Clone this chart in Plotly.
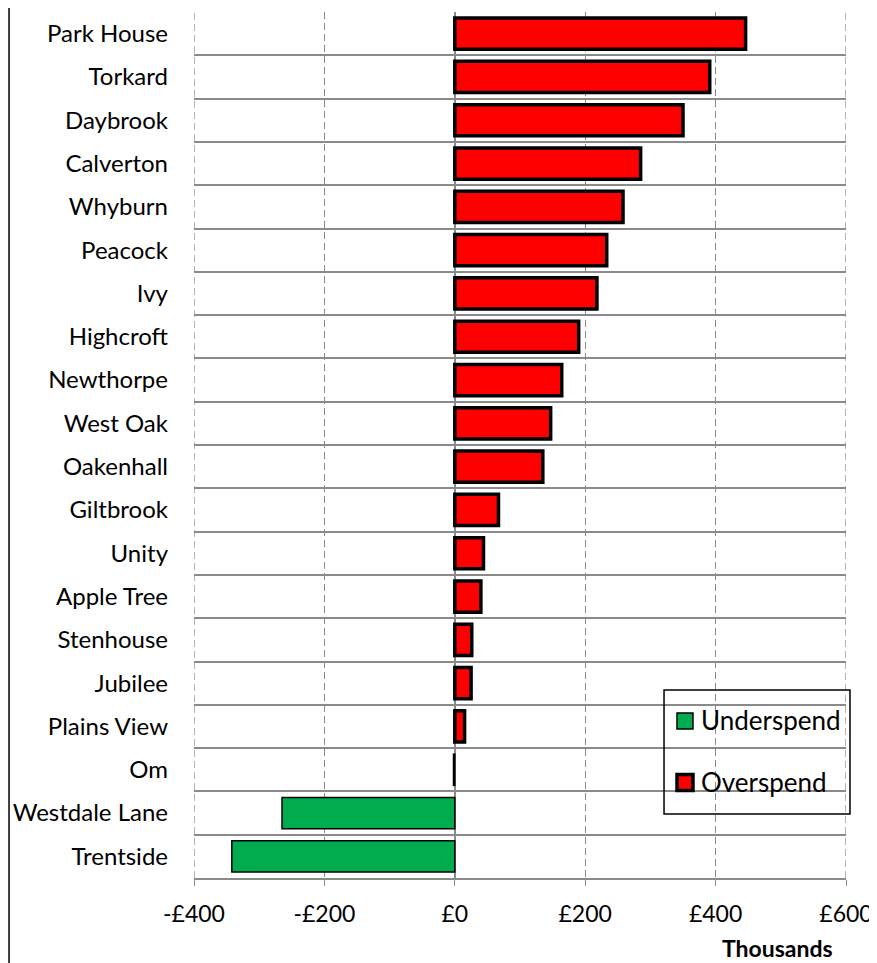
import plotly.graph_objects as go

schools = ["Park House", "Torkard", "Daybrook", "Calverton", "Whyburn", "Peacock", "Ivy",
           "Highcroft", "Newthorpe", "West Oak", "Oakenhall", "Giltbrook", "Unity",
           "Apple Tree", "Stenhouse", "Jubilee", "Plains View", "Om", "Westdale Lane", "Trentside"]
values = [446, 391, 350, 285, 258, 233, 218, 190, 164, 147, 135, 67, 44, 40, 26, 25, 15, -2, -265, -342]
x_ticks = [-400, -200, 0, 200, 400, 600]
x_tick_labels = ["-£400", "-£200", "£0", "£200", "£400", "£600"]
series_names = ["Underspend", "Overspend"]
series_colors = ["#00ac4e", "#ff0000"]

pos = list(range(len(schools)))
over_y = [p for p, v in zip(pos, values) if v > 0]
over_x = [v for v in values if v > 0]
under_y = [p for p, v in zip(pos, values) if v <= 0]
under_x = [v for v in values if v <= 0]

FONT = "Lato, Calibri, 'Open Sans', sans-serif"
GRID = "#8a8a8a"

fig = go.Figure()
fig.add_trace(go.Bar(
    y=under_y, x=under_x, orientation="h", name=series_names[0],
    marker=dict(color=series_colors[0], line=dict(color="black", width=1.5)), width=0.72))
fig.add_trace(go.Bar(
    y=over_y, x=over_x, orientation="h", name=series_names[1],
    marker=dict(color=series_colors[1], line=dict(color="black", width=3.5)), width=0.72))

fig.update_layout(
    width=869, height=955,
    margin=dict(l=186, r=31, t=4, b=85),
    plot_bgcolor="white", paper_bgcolor="white",
    barmode="overlay",
    font=dict(family=FONT, size=24, color="black"),
    showlegend=False,
    xaxis=dict(range=[-400, 600], tickvals=x_ticks, ticktext=x_tick_labels,
               automargin=False,
               showgrid=True, gridcolor=GRID, griddash="7px,4px", gridwidth=1.3,
               zeroline=True, zerolinecolor=GRID, zerolinewidth=1.5,
               showline=True, linecolor=GRID, linewidth=1.5,
               ticks="outside", ticklen=6, tickcolor=GRID, tickwidth=1.3,
               tickfont=dict(size=23), ticklabelstandoff=9),
    yaxis=dict(range=[len(schools) - 0.5, -0.5], tickvals=pos, ticktext=schools,
               automargin=False,
               showgrid=False, zeroline=False, showline=False, ticks="",
               tickfont=dict(size=24), ticklabelstandoff=25,
               minor=dict(tickvals=[p + 0.5 for p in pos[:-1]], showgrid=True,
                          gridcolor=GRID, gridwidth=1.5, ticks="")),
)

# edge gridlines (Plotly hides grid at range ends)
for xv in (x_ticks[0], x_ticks[-1]):
    fig.add_shape(type="line", xref="x", yref="paper", x0=xv, x1=xv, y0=0, y1=1,
                  line=dict(color=GRID, width=1.3, dash="7px,4px"), layer="below")

# chart frame left edge
fig.add_shape(type="line", xref="paper", yref="paper",
              x0=-0.2837, x1=-0.2837, y0=-0.1, y1=1.01,
              line=dict(color="black", width=1.5))

# legend box
fig.add_shape(type="rect", xref="paper", yref="paper",
              x0=0.7209, x1=1.0061, y0=0.0739, y1=0.2171,
              line=dict(color="black", width=1.5), fillcolor="rgba(0,0,0,0)")
fig.add_shape(type="rect", xref="paper", yref="paper",
              x0=0.7408, x1=0.7653, y0=0.1721, y1=0.1905,
              line=dict(color="black", width=1.5), fillcolor=series_colors[0])
fig.add_shape(type="rect", xref="paper", yref="paper",
              x0=0.7408, x1=0.7653, y0=0.1010, y1=0.1196,
              line=dict(color="black", width=3.5), fillcolor=series_colors[1])
fig.add_annotation(text=series_names[0], xref="paper", yref="paper", x=0.7745, y=0.1824,
                   xanchor="left", yanchor="middle", showarrow=False,
                   font=dict(family=FONT, size=26))
fig.add_annotation(text=series_names[1], xref="paper", yref="paper", x=0.7745, y=0.1109,
                   xanchor="left", yanchor="middle", showarrow=False,
                   font=dict(family=FONT, size=26))

fig.add_annotation(text="<b>Thousands</b>", xref="paper", yref="paper",
                   x=0.8957, y=-0.081, xanchor="center", yanchor="middle",
                   showarrow=False, font=dict(family=FONT, size=23))

fig.write_html("out.html")
